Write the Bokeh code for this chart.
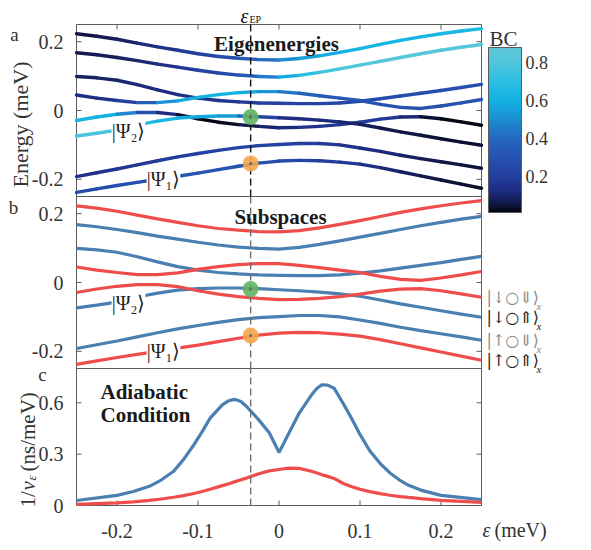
import numpy as np
from bokeh.plotting import figure
from bokeh.models import (Range1d, FixedTicker, Label, ColorBar, LinearColorMapper,
                          ColumnDataSource)
from bokeh.transform import linear_cmap
from bokeh.embed import file_html
from bokeh.resources import INLINE

# ---------------------------------------------------------------- data
# detuning grid (meV)
eps = [-0.25, -0.225, -0.2, -0.175, -0.15, -0.125, -0.1, -0.075, -0.05, -0.025,
       0.0, 0.025, 0.05, 0.075, 0.1, 0.125, 0.15, 0.175, 0.2, 0.225, 0.25]

# eigenenergies (meV); r* levels live in one subspace, b* in the other
r1 = [0.223, 0.216, 0.207, 0.196, 0.185, 0.175, 0.165, 0.157, 0.152, 0.148,
      0.147, 0.151, 0.159, 0.169, 0.180, 0.192, 0.204, 0.214, 0.223, 0.231, 0.238]
b1 = [0.168, 0.162, 0.154, 0.145, 0.135, 0.126, 0.117, 0.109, 0.103, 0.099,
      0.097, 0.102, 0.111, 0.121, 0.132, 0.143, 0.154, 0.165, 0.175, 0.184, 0.192]
b2 = [0.099, 0.095, 0.088, 0.075, 0.060, 0.046, 0.036, 0.029, 0.025, 0.022,
      0.021, 0.020, 0.020, 0.022, 0.027, 0.034, 0.042, 0.050, 0.058, 0.067, 0.076]
r2 = [0.045, 0.036, 0.029, 0.023, 0.023, 0.028, 0.038, 0.046, 0.052, 0.055,
      0.055, 0.050, 0.043, 0.036, 0.029, 0.018, 0.009, 0.006, 0.013, 0.022, 0.032]
r3 = [-0.029, -0.019, -0.011, -0.006, -0.006, -0.012, -0.024, -0.034, -0.041, -0.046,
      -0.050, -0.049, -0.046, -0.041, -0.034, -0.025, -0.019, -0.018, -0.024, -0.033, -0.043]
b3 = [-0.074, -0.066, -0.057, -0.042, -0.031, -0.022, -0.018, -0.016, -0.016, -0.018,
      -0.021, -0.024, -0.028, -0.033, -0.040, -0.051, -0.062, -0.072, -0.082, -0.092, -0.101]
b4 = [-0.192, -0.181, -0.170, -0.158, -0.146, -0.135, -0.125, -0.116, -0.108, -0.102,
      -0.099, -0.096, -0.096, -0.100, -0.109, -0.119, -0.130, -0.140, -0.149, -0.158, -0.168]
r4 = [-0.238, -0.228, -0.218, -0.209, -0.200, -0.191, -0.182, -0.172, -0.162, -0.153,
      -0.147, -0.145, -0.146, -0.150, -0.156, -0.166, -0.178, -0.190, -0.202, -0.214, -0.226]

# BC weight along each level
bc_r1 = [0.04, 0.06, 0.08, 0.10, 0.13, 0.16, 0.20, 0.24, 0.30, 0.37,
         0.46, 0.53, 0.57, 0.60, 0.61, 0.62, 0.62, 0.63, 0.63, 0.64, 0.64]
bc_b1 = [0.06, 0.07, 0.08, 0.10, 0.12, 0.15, 0.20, 0.24, 0.30, 0.40,
         0.52, 0.65, 0.74, 0.79, 0.80, 0.81, 0.81, 0.82, 0.82, 0.82, 0.82]
bc_b2 = [0.08, 0.09, 0.10, 0.11, 0.12, 0.13, 0.14, 0.15, 0.17, 0.19,
         0.21, 0.22, 0.23, 0.24, 0.25, 0.26, 0.27, 0.28, 0.28, 0.28, 0.28]
bc_r2 = [0.12, 0.13, 0.15, 0.25, 0.45, 0.57, 0.60, 0.61, 0.60, 0.56,
         0.48, 0.40, 0.35, 0.33, 0.32, 0.31, 0.30, 0.30, 0.30, 0.30, 0.30]
bc_r3 = [0.62, 0.62, 0.58, 0.40, 0.18, 0.05, 0.02, 0.02, 0.04, 0.08,
         0.11, 0.13, 0.15, 0.17, 0.18, 0.18, 0.16, 0.06, 0.02, 0.02, 0.02]
bc_b3 = [0.78, 0.78, 0.76, 0.70, 0.64, 0.60, 0.58, 0.56, 0.50, 0.30,
         0.14, 0.12, 0.12, 0.11, 0.09, 0.07, 0.06, 0.05, 0.04, 0.04, 0.04]
bc_b4 = [0.14, 0.15, 0.16, 0.17, 0.18, 0.19, 0.20, 0.21, 0.22, 0.22,
         0.21, 0.20, 0.18, 0.16, 0.14, 0.12, 0.10, 0.08, 0.06, 0.05, 0.04]
bc_r4 = [0.25, 0.26, 0.27, 0.28, 0.29, 0.30, 0.30, 0.30, 0.30, 0.29,
         0.27, 0.24, 0.21, 0.18, 0.15, 0.12, 0.09, 0.07, 0.05, 0.04, 0.03]

# exceptional point and the two tracked states on it
eps_ep = -0.035
psi2_energy = -0.019
psi1_energy = -0.154

# adiabatic condition 1/v_eps (ns/meV)
c_eps = [-0.25, -0.2, -0.18, -0.16, -0.145, -0.13, -0.118, -0.105, -0.095, -0.085,
         -0.07, -0.062, -0.055, -0.047, -0.04, -0.025, -0.012, 0.0, 0.012, 0.025,
         0.04, 0.047, 0.053, 0.06, 0.068, 0.08, 0.09, 0.1, 0.112, 0.125,
         0.137, 0.15, 0.16, 0.175, 0.2, 0.25]
inv_v_blue = [0.029, 0.059, 0.082, 0.112, 0.150, 0.200, 0.268, 0.355, 0.430, 0.510,
              0.588, 0.612, 0.620, 0.607, 0.578, 0.500, 0.425, 0.310, 0.420, 0.540,
              0.645, 0.685, 0.705, 0.703, 0.685, 0.590, 0.505, 0.415, 0.320, 0.245,
              0.190, 0.145, 0.118, 0.090, 0.059, 0.034]
inv_v_red = [0.006, 0.015, 0.021, 0.030, 0.038, 0.048, 0.058, 0.070, 0.082, 0.095,
             0.116, 0.127, 0.138, 0.150, 0.160, 0.185, 0.202, 0.210, 0.218, 0.217,
             0.200, 0.190, 0.180, 0.170, 0.158, 0.127, 0.110, 0.095, 0.081, 0.069,
             0.060, 0.052, 0.047, 0.040, 0.030, 0.018]

x_ticks = [-0.2, -0.1, 0.0, 0.1, 0.2]
e_ticks = [-0.2, 0.0, 0.2]
c_ticks = [0.0, 0.3, 0.6]
bc_ticks = [0.2, 0.4, 0.6, 0.8]
kets = ["|↓○⇓⟩", "|↓○⇑⟩", "|↑○⇓⟩", "|↑○⇑⟩"]
ket_colors = ["#8a8a8a", "#222222", "#8a8a8a", "#222222"]

# ---------------------------------------------------------------- style
FONT = "Liberation Serif"
GRID = "#5c5c5c"
TXT = "#333333"
RED = "#ef4d4b"
BLUE = "#4a7fb1"
GREEN = "#5fb45f"
ORANGE = "#f4a64c"

W, H = 591, 550
X_LO, X_HI = -0.25, 0.25
BOX_L, BOX_R = 76, 481          # horizontal extent of the three panels (px)

# (value low, value high, top px, bottom px) of each stacked panel
PANEL_A = (-0.25, 0.25, 24, 196)
PANEL_B = (-0.25, 0.25, 196, 368)
PANEL_C = (0.0, 0.8, 368, 505)

# colour bar box (px)
CB_L, CB_R, CB_T, CB_B = 488, 521, 47, 212
BC_LOW, BC_HIGH = 0.01, 0.877


def x_at(px):
    return X_LO + (px - BOX_L) * (X_HI - X_LO) / (BOX_R - BOX_L)


def y_at(panel, py):
    lo, hi, top, bot = panel
    return hi - (py - top) * (hi - lo) / (bot - top)


def stacked(panel):
    # the plot area spans the whole canvas; each panel owns one horizontal band
    return Range1d(start=y_at(panel, H), end=y_at(panel, 0))


def fmt(v):
    return "0" if v == 0 else f"{v:g}"


def bc_palette(n=256):
    anchors = [(0.00, (0, 0, 0)), (0.05, (16, 22, 64)), (0.12, (30, 44, 128)),
               (0.20, (36, 64, 160)), (0.30, (38, 82, 176)), (0.40, (36, 104, 192)),
               (0.50, (28, 142, 210)), (0.60, (18, 178, 226)), (0.70, (44, 191, 226)),
               (0.80, (82, 198, 220)), (0.90, (98, 200, 216))]
    out = []
    for t in np.linspace(BC_LOW, BC_HIGH, n):
        for (t0, c0), (t1, c1) in zip(anchors[:-1], anchors[1:]):
            if t0 <= t <= t1:
                f = (t - t0) / (t1 - t0)
                rgb = [int(round(a + (b - a) * f)) for a, b in zip(c0, c1)]
                out.append("#%02x%02x%02x" % tuple(rgb))
                break
    return out


PAL = bc_palette()

p = figure(width=W, height=H, x_range=Range1d(x_at(0), x_at(W)),
           y_range=stacked(PANEL_C), x_axis_type=None, y_axis_type=None,
           output_backend="svg", toolbar_location=None,
           min_border_left=0, min_border_right=0, min_border_top=0, min_border_bottom=0,
           outline_line_color=None, background_fill_color="white",
           border_fill_color="white")
p.extra_y_ranges = {"a": stacked(PANEL_A), "b": stacked(PANEL_B)}

RNG = {"a": PANEL_A, "b": PANEL_B, "default": PANEL_C}


def label(px, py, rng, text, size, **kw):
    opts = dict(text_font=FONT, text_color=TXT, text_align="left",
                text_baseline="alphabetic")
    opts.update(kw)
    p.add_layout(Label(x=x_at(px), y=y_at(RNG[rng], py), text=text,
                       text_font_size=size, y_range_name=rng, **opts))


def tick_label(x, y, rng, text, **kw):
    opts = dict(text_font=FONT, text_color=TXT, text_font_size="20px",
                text_baseline="middle")
    opts.update(kw)
    p.add_layout(Label(x=x, y=y, text=text, y_range_name=rng, **opts))


# ---------------------------------------------------------------- panel frames, ticks
for rng, ticks in (("a", e_ticks), ("b", e_ticks), ("default", c_ticks)):
    lo, hi = RNG[rng][0], RNG[rng][1]
    p.quad(left=[X_LO], right=[X_HI], bottom=[lo], top=[hi], fill_color=None,
           line_color=GRID, line_width=1, y_range_name=rng)
    p.ray(x=[X_LO] * len(ticks), y=ticks, length=5, length_units="screen",
          angle=0, line_color=GRID, line_width=1, y_range_name=rng)
    p.ray(x=[X_HI] * len(ticks), y=ticks, length=5, length_units="screen",
          angle=np.pi, line_color=GRID, line_width=1, y_range_name=rng)
    for t in ticks:
        tick_label(X_LO, t, rng, fmt(t), x_offset=-13, text_align="right")

# x ticks: top of the first panel, bottom of the last one
p.ray(x=x_ticks, y=[PANEL_A[1]] * len(x_ticks), length=5, length_units="screen",
      angle=-np.pi / 2, line_color=GRID, line_width=1, y_range_name="a")
p.ray(x=x_ticks, y=[PANEL_C[0]] * len(x_ticks), length=5, length_units="screen",
      angle=np.pi / 2, line_color=GRID, line_width=1)
for t in x_ticks:
    tick_label(t, y_at(PANEL_C, 530), "default", fmt(t), text_align="center")

# ---------------------------------------------------------------- panel a
levels = [(r1, bc_r1), (b1, bc_b1), (b2, bc_b2), (r2, bc_r2),
          (r3, bc_r3), (b3, bc_b3), (b4, bc_b4), (r4, bc_r4)]
seg_x, seg_y, seg_bc = [], [], []
for e, bc in levels:
    for i in range(len(eps) - 1):
        seg_x.append([eps[i], eps[i + 1]])
        seg_y.append([e[i], e[i + 1]])
        seg_bc.append(0.5 * (bc[i] + bc[i + 1]))
seg_src = ColumnDataSource(dict(xs=seg_x, ys=seg_y, bc=seg_bc))
p.multi_line("xs", "ys", source=seg_src, y_range_name="a", line_width=3.4,
             line_cap="round", line_color=linear_cmap("bc", PAL, BC_LOW, BC_HIGH))

p.segment(x0=[eps_ep], y0=[PANEL_A[0]], x1=[eps_ep], y1=[PANEL_A[1]], y_range_name="a",
          line_color="#111111", line_width=1.4, line_dash="7 4")

# ---------------------------------------------------------------- panel b
for e in (b1, b2, b3, b4):
    p.line(eps, e, y_range_name="b", line_color=BLUE, line_width=3.2)
for e in (r1, r2, r3, r4):
    p.line(eps, e, y_range_name="b", line_color=RED, line_width=3.2)
p.segment(x0=[eps_ep], y0=[PANEL_B[0]], x1=[eps_ep], y1=[PANEL_B[1]], y_range_name="b",
          line_color="#6e6e6e", line_width=1.4, line_dash="7 4")

# states on the exceptional point, in both energy panels
for rng in ("a", "b"):
    top = RNG[rng][2]
    p.scatter([eps_ep], [psi2_energy], size=16, fill_color=GREEN, fill_alpha=0.9,
              line_color=None, y_range_name=rng)
    p.scatter([eps_ep], [psi1_energy], size=16, fill_color=ORANGE, fill_alpha=0.9,
              line_color=None, y_range_name=rng)
    p.scatter([eps_ep, eps_ep], [psi2_energy, psi1_energy], size=3, fill_color="#666666",
              line_color=None, y_range_name=rng)
    label(128, top + 106, rng, "|Ψ₂⟩", "20px", text_align="center", text_baseline="middle",
          text_color="#222222", background_fill_color="white", background_fill_alpha=1.0)
    label(163, top + 154, rng, "|Ψ₁⟩", "20px", text_align="center", text_baseline="middle",
          text_color="#222222", background_fill_color="white", background_fill_alpha=1.0)

# subspace labels at the right ends of the lowest levels
for lvl, ket, col in zip((r3, b3, b4, r4), kets, ket_colors):
    p.add_layout(Label(x=x_at(486), y=lvl[-1], text=ket, y_range_name="b",
                       text_align="left", text_baseline="middle",
                       text_font="DejaVu Serif", text_font_size="16px", text_color=col))
    p.add_layout(Label(x=x_at(536), y=lvl[-1] - 9 / 344, text="x", y_range_name="b",
                       text_align="left", text_baseline="middle",
                       text_font=FONT, text_font_style="italic",
                       text_font_size="11px", text_color=col))

# ---------------------------------------------------------------- panel c
p.line(c_eps, inv_v_blue, line_color=BLUE, line_width=3.2)
p.line(c_eps, inv_v_red, line_color=RED, line_width=3.2)
p.segment(x0=[eps_ep], y0=[PANEL_C[0]], x1=[eps_ep], y1=[PANEL_C[1]],
          line_color="#6e6e6e", line_width=1.4, line_dash="7 4")

# ---------------------------------------------------------------- texts
label(14, 34, "a", "a", "19px", text_align="center", text_baseline="middle")
label(13, 207, "b", "b", "19px", text_align="center", text_baseline="middle")
label(42, 374, "default", "c", "19px", text_align="center", text_baseline="middle")

label(276, 43, "a", "Eigenenergies", "21px", text_align="center",
      text_font_style="bold", text_color="#1a1a1a")
label(280, 216, "b", "Subspaces", "21px", text_align="center",
      text_font_style="bold", text_color="#1a1a1a")
label(100, 391, "default", "Adiabatic", "21px", text_font_style="bold", text_color="#1a1a1a")
label(100, 414, "default", "Condition", "21px", text_font_style="bold", text_color="#1a1a1a")

label(20, 124, "a", "Energy (meV)", "22px", text_align="center",
      text_baseline="middle", angle=np.pi / 2)

# 1/v_eps (ns/meV), written bottom to top
label(27, 507, "default", "1/", "21px", angle=np.pi / 2)
label(27, 490, "default", "v", "21px", angle=np.pi / 2, text_font_style="italic")
label(31, 480, "default", "ε", "13px", angle=np.pi / 2, text_font_style="italic")
label(27, 471, "default", "(ns/meV)", "21px", angle=np.pi / 2)

label(482, 529, "default", "ε", "20px", text_font_style="italic")
label(494, 529, "default", "(meV)", "20px")

label(240, 15, "a", "ε", "20px", text_font_style="italic", text_color="#111111")
label(249, 19, "a", "EP", "10px", text_color="#111111")

label(489, 38, "a", "BC", "21px")

# ---------------------------------------------------------------- colour bar
mapper = LinearColorMapper(palette=PAL, low=BC_LOW, high=BC_HIGH)
cb = ColorBar(color_mapper=mapper, orientation="vertical",
              location=(CB_L, H - CB_B),
              width=CB_R - CB_L, height=CB_B - CB_T, padding=0, margin=0,
              ticker=FixedTicker(ticks=bc_ticks),
              major_label_overrides={t: fmt(t) for t in bc_ticks},
              major_label_text_font=FONT, major_label_text_font_size="18px",
              major_label_text_color=TXT, major_tick_line_color=None,
              minor_tick_line_color=None, bar_line_color=GRID, label_standoff=4,
              background_fill_alpha=0, border_line_color=None)
p.add_layout(cb, "center")

open("out.html", "w").write(file_html(p, INLINE))
